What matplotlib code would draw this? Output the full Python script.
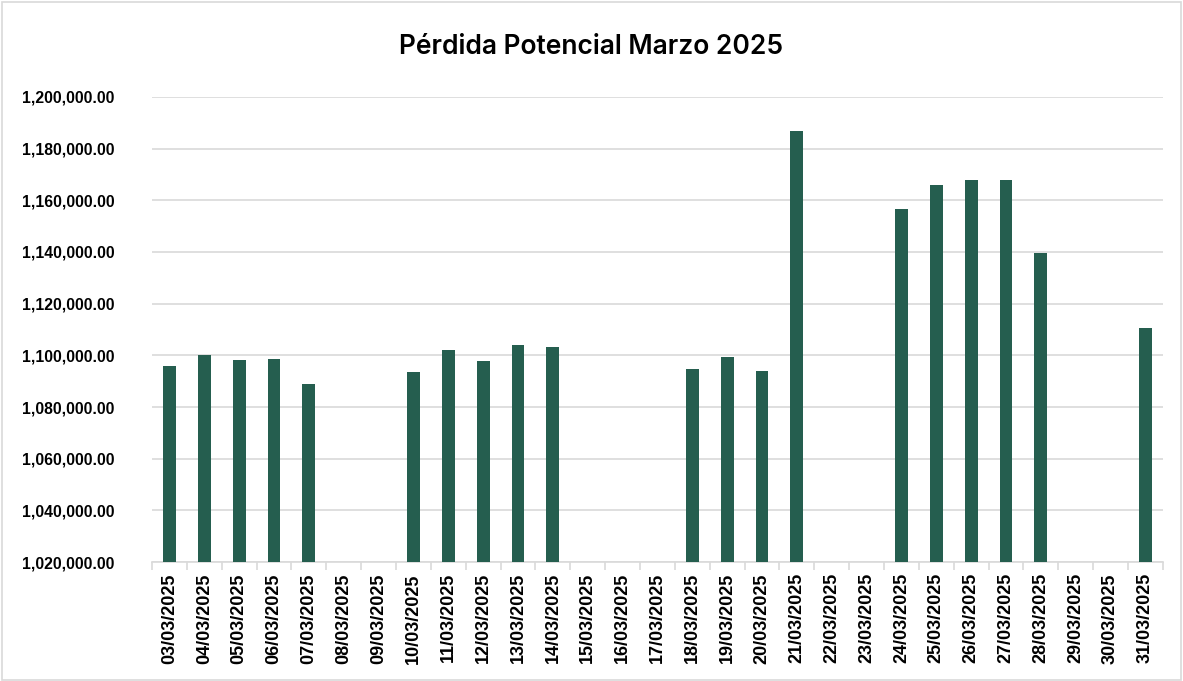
import matplotlib
matplotlib.use("Agg")
import matplotlib.pyplot as plt
from matplotlib.ticker import FuncFormatter, FixedLocator
from matplotlib.patches import Rectangle
import numpy as np

dates = ["03/03/2025", "04/03/2025", "05/03/2025", "06/03/2025", "07/03/2025",
         "08/03/2025", "09/03/2025", "10/03/2025", "11/03/2025", "12/03/2025",
         "13/03/2025", "14/03/2025", "15/03/2025", "16/03/2025", "17/03/2025",
         "18/03/2025", "19/03/2025", "20/03/2025", "21/03/2025", "22/03/2025",
         "23/03/2025", "24/03/2025", "25/03/2025", "26/03/2025", "27/03/2025",
         "28/03/2025", "29/03/2025", "30/03/2025", "31/03/2025"]
values = [1096000, 1100000, 1098100, 1098450, 1088800,
          None, None, 1093700, 1101900, 1097950,
          1104000, 1103250, None, None, None,
          1094700, 1099500, 1093950, 1186700, None,
          None, 1156650, 1165800, 1168000, 1168000,
          1139450, None, None, 1110700]
title = "Pérdida Potencial Marzo 2025"
y_min, y_max, y_step = 1020000, 1200000, 20000

plt.rcParams['font.family'] = ['Liberation Sans', 'DejaVu Sans']

fig = plt.figure(figsize=(11.83, 6.81), dpi=100)
ax = fig.add_axes([0.1285, 0.1747, 0.8545, 0.6829])

x = np.arange(len(dates))
heights = [v if v is not None else np.nan for v in values]
ax.bar(x, heights, width=0.37, color="#255E4F", zorder=3)

ax.set_xlim(-0.5, len(dates) - 0.5)
ax.set_ylim(y_min, y_max)
ax.set_yticks(np.arange(y_min, y_max + 1, y_step))
ax.yaxis.set_major_formatter(FuncFormatter(lambda v, p: f"{v:,.2f}"))
ax.grid(axis="y", color="#D9D9D9", linewidth=1.2, zorder=0)
ax.tick_params(axis="y", length=0, pad=27, labelsize=11.3)
for lab in ax.get_yticklabels():
    lab.set_fontweight("bold")

ax.set_xticks(x)
ax.set_xticklabels(dates, rotation=90, fontsize=13, fontweight="bold")
ax.xaxis.set_minor_locator(FixedLocator(np.arange(-0.5, len(dates), 1.0)))
ax.tick_params(axis="x", which="major", length=0, pad=8)
ax.tick_params(axis="x", which="minor", length=6, color="#D9D9D9", width=1.2)

for s in ["top", "right", "left"]:
    ax.spines[s].set_visible(False)
ax.spines["bottom"].set_color("#D9D9D9")
ax.spines["bottom"].set_linewidth(1.2)

fig.text(0.5, 0.931, title, ha="center", va="center", fontsize=19,
         fontweight="semibold", family=["Inter", "Liberation Sans", "DejaVu Sans"])

fig.patches.append(Rectangle((0.002, 0.002), 0.996, 0.995, transform=fig.transFigure,
                             fill=False, edgecolor="#D9D9D9", linewidth=1.2))

fig.savefig("out.png", dpi=100)
